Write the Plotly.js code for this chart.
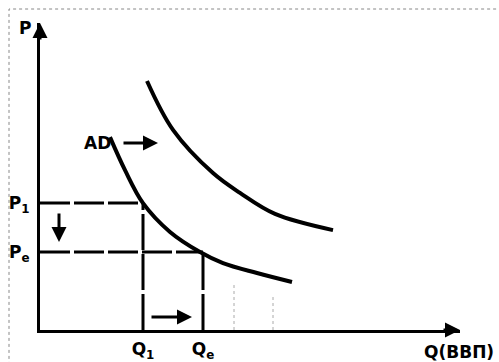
<!DOCTYPE html>
<html>
<head>
<meta charset="utf-8">
<script src="https://cdn.plot.ly/plotly-3.0.1.min.js"></script>
<style>html,body{margin:0;padding:0;background:#fff;}#chart{width:499px;height:362px;}</style>
</head>
<body>
<div id="chart"></div>
<script>
// Initial aggregate demand curve (AD)
const adX1 = [17.5, 21.25, 25.75, 32.5, 40, 45.75, 54.25, 63];
const adY1 = [64.3, 53.3, 42.3, 32.7, 26, 22.3, 19, 16];
// Shifted aggregate demand curve
const adX2 = [26.75, 33.25, 43.25, 50, 58.75, 73.25];
const adY2 = [83, 66.7, 52.3, 45.7, 38.7, 33.3];
// Reference levels
const Q1 = 25.75, Qe = 40.75;
const P1 = 42.3, Pe = 26;
const yTickVals = [P1, Pe];
const yTickText = ['P<sub>1</sub>', 'P<sub>e</sub>'];
const xTickVals = [Q1, Qe];
const xTickText = ['Q<sub>1</sub>', 'Q<sub>e</sub>'];
// faint dotted guide lines seen in the scan
const faintX = [48.5, 58.25];
const faintTop = [15.7, 11];

const font = {family: 'DejaVu Sans, sans-serif', size: 17, color: '#000', weight: 'bold'};
const lineStyle = (w, dash, c) => ({color: c || '#000', width: w, dash: dash || 'solid'});

const traces = [
  {x: adX1, y: adY1, mode: 'lines', line: Object.assign(lineStyle(4), {shape: 'spline'}), cliponaxis: false},
  {x: adX2, y: adY2, mode: 'lines', line: Object.assign(lineStyle(4), {shape: 'spline'}), cliponaxis: false},
  {x: [0, Q1], y: [P1, P1], mode: 'lines', line: lineStyle(3, '30px,4px'), cliponaxis: false},
  {x: [0, Qe], y: [Pe, Pe], mode: 'lines', line: lineStyle(3, '30px,4px'), cliponaxis: false},
  {x: [Q1, Q1], y: [0, P1], mode: 'lines', line: lineStyle(3, '36px,4px'), cliponaxis: false},
  {x: [Qe, Qe], y: [0, Pe], mode: 'lines', line: lineStyle(3, '36px,4px'), cliponaxis: false}
];
faintX.forEach((fx, i) => traces.push({x: [fx, fx], y: [0, faintTop[i]], mode: 'lines', line: lineStyle(1, 'dot', '#aaa')}));

const arrow = (x, y, ax, ay) => ({x: x, y: y, ax: ax, ay: ay, xref: 'x', yref: 'y', axref: 'x', ayref: 'y',
  showarrow: true, arrowhead: 2, arrowsize: 1, arrowwidth: 3, arrowcolor: '#000', text: ''});

const layout = {
  width: 499, height: 362,
  margin: {l: 40, r: 39, t: 23, b: 32},
  paper_bgcolor: '#fff', plot_bgcolor: '#fff',
  showlegend: false,
  font: font,
  xaxis: {range: [0, 105], showgrid: false, zeroline: false, showline: true, linewidth: 3, linecolor: '#000',
    ticks: '', tickvals: xTickVals, ticktext: xTickText, tickfont: font, ticklabelstandoff: 2, fixedrange: true},
  yaxis: {range: [0, 102.33], showgrid: false, zeroline: false, showline: true, linewidth: 3, linecolor: '#000',
    ticks: '', tickvals: yTickVals, ticktext: yTickText, tickfont: font, ticklabelstandoff: 4, fixedrange: true},
  shapes: [
    {type: 'rect', xref: 'paper', yref: 'paper', x0: -0.0738, x1: 1.3, y0: -0.3, y1: 1.0456,
     line: {color: '#888', width: 1, dash: 'dot'}}
  ],
  annotations: [
    {x: 0, y: 102.33, ax: 0, ay: 18, xref: 'x', yref: 'y', showarrow: true, arrowhead: 2, arrowsize: 1, arrowwidth: 3, arrowcolor: '#000', text: ''},
    {x: 105, y: 0, ax: -18, ay: 0, xref: 'x', yref: 'y', showarrow: true, arrowhead: 2, arrowsize: 1, arrowwidth: 3, arrowcolor: '#000', text: ''},
    arrow(29.5, 62.3, 20.5, 62.3),
    arrow(4.75, 29.3, 4.75, 39.3),
    arrow(38, 4.3, 27.5, 4.3),
    {x: -0.0357, y: 0.984, xref: 'paper', yref: 'paper', xanchor: 'center', yanchor: 'middle', text: 'P', showarrow: false, font: font},
    {x: 14.25, y: 62.3, xref: 'x', yref: 'y', text: 'AD', showarrow: false, font: font},
    {x: 0.91, y: -0.072, xref: 'paper', yref: 'paper', xanchor: 'left', yanchor: 'middle', text: 'Q(ВВП)', showarrow: false, font: font}
  ]
};

Plotly.newPlot('chart', traces, layout, {displayModeBar: false, staticPlot: true});
</script>
</body>
</html>
